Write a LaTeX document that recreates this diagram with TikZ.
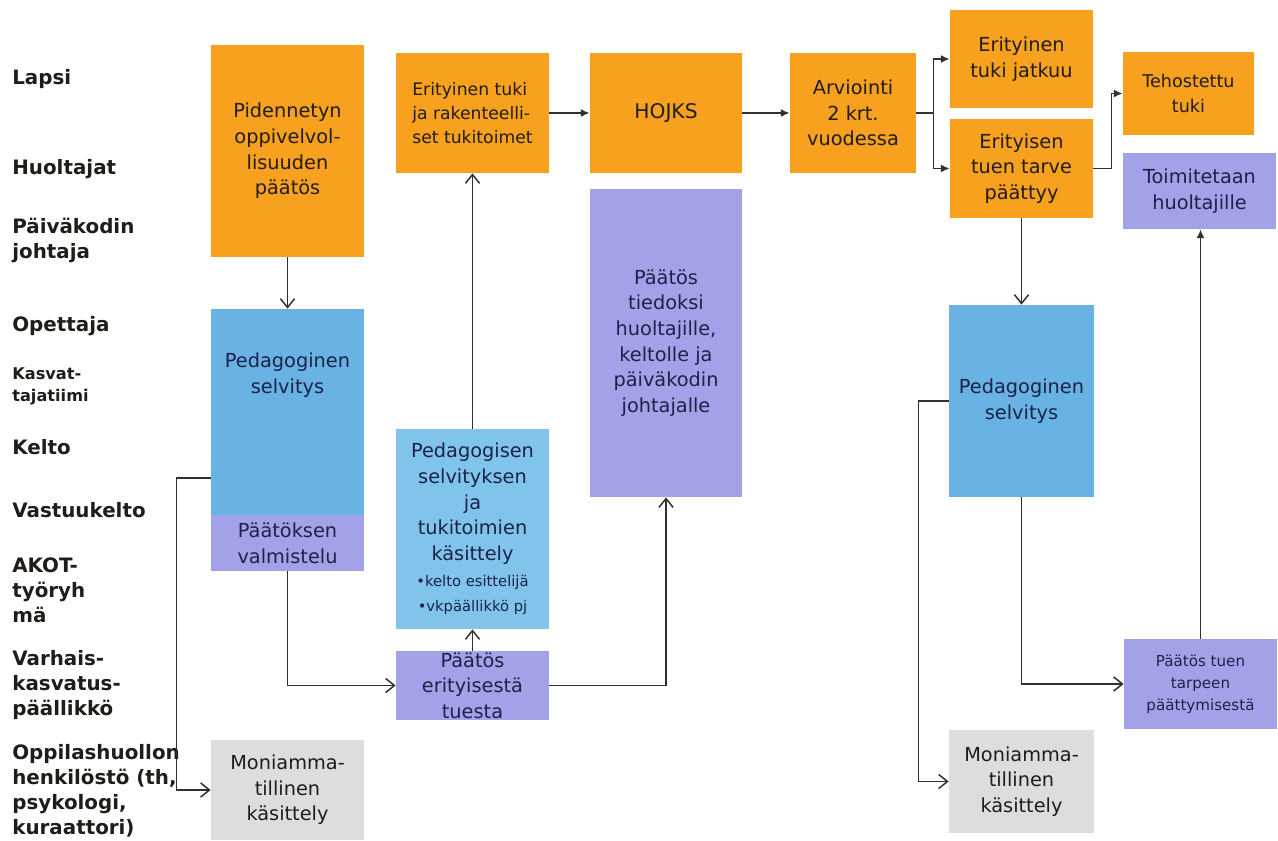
\documentclass[tikz,border=0pt]{standalone}
\usepackage{fontspec}
\setmainfont{DejaVu Sans}
\usetikzlibrary{positioning, calc, arrows.meta}
\definecolor{boxorange}{RGB}{247,161,30}
\definecolor{boxblue}{RGB}{104,178,228}
\definecolor{boxlightblue}{RGB}{128,196,236}
\definecolor{boxpurple}{RGB}{163,162,232}
\definecolor{boxgray}{RGB}{221,221,221}
\definecolor{txtdark}{RGB}{32,28,24}
\definecolor{txtnavy}{RGB}{28,34,72}
\definecolor{linegray}{RGB}{48,48,48}
\newcommand{\bulletsize}{\fontsize{8.4}{12.5}\selectfont}

\begin{document}
\begin{tikzpicture}[x=0.02cm, y=-0.02cm,
    sz/.style 2 args={minimum width=#1*0.02cm, minimum height=#2*0.02cm},
    box/.style={inner sep=0pt, align=center, font=\fontsize{11}{14.6}\selectfont},
    org/.style={box, fill=boxorange, text=txtdark},
    blu/.style={box, fill=boxblue, text=txtnavy},
    lblu/.style={box, fill=boxlightblue, text=txtnavy},
    pur/.style={box, fill=boxpurple, text=txtnavy},
    gry/.style={box, fill=boxgray, text=txtdark},
    role/.style={anchor=west, align=left, inner sep=0pt, text=txtdark, font=\bfseries\fontsize{11.3}{14.2}\selectfont},
    open/.style={draw=linegray, line width=0.85pt, -{Straight Barb[length=5pt, width=8pt]}},
    fill arr/.style={draw=linegray, line width=0.85pt, -{Latex[length=5pt, width=4.5pt]}}]
    \useasboundingbox (0,0) rectangle (1278,841);

    \node[role] (lapsi) at (12,79) {Lapsi};
    \node[role] (huolt) at (12,169) {Huoltajat};
    \node[role] (pkjoht) at (12,240) {Päiväkodin\\johtaja};
    \node[role] (opett) at (12,326) {Opettaja};
    \node[role, font=\bfseries\fontsize{9.2}{12.5}\selectfont] (kasv) at (12,386) {Kasvat-\\tajatiimi};
    \node[role] (kelto) at (12,447) {Kelto};
    \node[role] (vkelto) at (12,510) {Vastuukelto};
    \node[role] (akot) at (12,590) {AKOT-\\työryh\\mä};
    \node[role] (vkpaal) at (12,685) {Varhais-\\kasvatus-\\päällikkö};
    \node[role] (ophuolto) at (12,791) {Oppilashuollon\\henkilöstö (th,\\psykologi,\\kuraattori)};

    \node[org, sz={153}{212}] (pid) at (287.5,151) {Pidennetyn\\oppivelvol-\\lisuuden\\päätös};
    \node[blu, sz={153}{206}, label={[box, text=txtnavy, anchor=north, yshift=-25pt]north:Pedagoginen\\selvitys}] (pedsel) at (287.5,412) {};
    \node[pur, sz={153}{56}] (valm) at (287.5,543) {Päätöksen\\valmistelu};
    \node[gry, sz={153}{100}] (moni) at (287.5,790) {Moniamma-\\tillinen\\käsittely};

    \node[org, sz={153}{120}, align=left, font=\fontsize{9.8}{13.6}\selectfont] (erit) at (472.5,113) {Erityinen tuki\\ja rakenteelli-\\set tukitoimet};
    \node[lblu, sz={153}{200}] (pedkas) at (472.5,529) {Pedagogisen\\selvityksen\\ja\\tukitoimien\\käsittely\\\bulletsize •kelto esittelijä\\\bulletsize •vkpäällikkö pj};
    \node[pur, sz={153}{69}] (paatos) at (472.5,685.5) {Päätös\\erityisestä\\tuesta};

    \node[org, sz={152}{120}, font=\fontsize{11.5}{14.6}\selectfont] (hojks) at (666,113) {HOJKS};
    \node[pur, sz={152}{308}] (tied) at (666,343) {Päätös\\tiedoksi\\huoltajille,\\keltolle ja\\päiväkodin\\johtajalle};
    \node[org, sz={126}{120}] (arv) at (853,113) {Arviointi\\2 krt.\\vuodessa};

    \node[org, sz={143}{98}] (jatkuu) at (1021.5,59) {Erityinen\\tuki jatkuu};
    \node[org, sz={143}{99}] (tarve) at (1021.5,168.5) {Erityisen\\tuen tarve\\päättyy};
    \node[blu, sz={145}{192}] (pedsel2) at (1021.5,401) {Pedagoginen\\selvitys};
    \node[gry, sz={145}{103}] (moni2) at (1021.5,781.5) {Moniamma-\\tillinen\\käsittely};

    \node[org, sz={131}{83}, font=\fontsize{10}{14}\selectfont] (teho) at (1188.5,93.5) {Tehostettu\\tuki};
    \node[pur, sz={153}{76}] (toim) at (1199.5,191) {Toimitetaan\\huoltajille};
    \node[pur, sz={153}{90}, font=\fontsize{8.6}{12.5}\selectfont] (paat2) at (1200.5,684) {Päätös tuen\\tarpeen\\päättymisestä};

    \draw[open] (pid) -- (pedsel);
    \draw[open] ([yshift=-1.32cm]pedsel.west) -- ++(-34,0) |- (moni.west);
    \draw[open] (valm.south) |- (paatos.west);
    \draw[open] (paatos) -- (pedkas);
    \draw[open] (pedkas) -- (erit);
    \draw[open] (paatos.east) -| (tied.south);
    \draw[fill arr] (erit) -- (hojks);
    \draw[fill arr] (hojks) -- (arv);
    \draw[fill arr] (arv.east) -- ++(17,0) |- (jatkuu.west);
    \draw[fill arr] (arv.east) -- ++(17,0) |- (tarve.west);
    \draw[fill arr] (tarve.east) -- ++(18,0) |- (teho.west);
    \draw[open] (tarve) -- (pedsel2);
    \draw[open] (pedsel2.west) -- ++(-30,0) |- (moni2.west);
    \draw[open] (pedsel2.south) |- (paat2.west);
    \draw[fill arr] (paat2.north) -- (paat2.north |- toim.south);
\end{tikzpicture}
\end{document}
